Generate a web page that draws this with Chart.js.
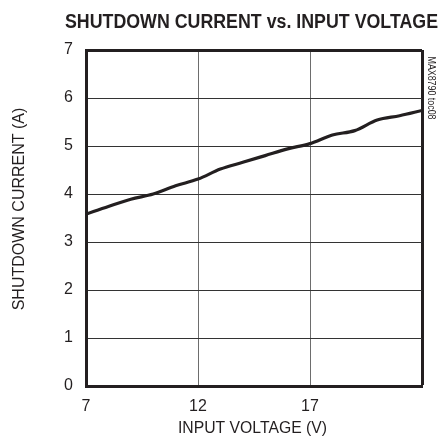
<!DOCTYPE html>
<html lang="en">
<head>
    <meta charset="UTF-8">
    <title>Shutdown Current vs. Input Voltage</title>
    <style>
        body {
            margin: 0;
            padding: 0;
            background: #fff;
        }
        #wrap {
            width: 443px;
            height: 444px;
        }
    </style>
</head>
<body>
    <div id="wrap">
        <canvas id="chart" width="443" height="444"></canvas>
    </div>

    <script src="https://cdn.jsdelivr.net/npm/chart.js"></script>
    <script>
        // values
        const inputVoltage = [7, 8, 9, 10, 11, 12, 13, 14, 15, 16, 17, 18, 19, 20, 21, 22];
        const shutdownCurrent = [3.58, 3.74, 3.89, 4.00, 4.17, 4.31, 4.52, 4.66, 4.80, 4.94, 5.05, 5.23, 5.32, 5.54, 5.63, 5.74];
        const xTicks = [7, 12, 17, 22];
        const yTicks = [0, 1, 2, 3, 4, 5, 6, 7];

        const FONT = '"Liberation Sans", Arial, sans-serif';

        const points = inputVoltage.map((v, i) => ({ x: v, y: shutdownCurrent[i] }));

        // title, rotated y label and the part-number tag; maxWidth squeezes
        // the text like the narrow font of the original
        const labels = {
            id: 'labels',
            afterDraw(chart) {
                const ctx = chart.ctx;
                ctx.save();
                ctx.fillStyle = '#231f20';
                ctx.textAlign = 'center';
                ctx.textBaseline = 'middle';

                ctx.font = 'bold 20px ' + FONT;
                ctx.fillText('SHUTDOWN CURRENT vs. INPUT VOLTAGE', 251.5, 22, 373);

                ctx.font = '16px ' + FONT;
                ctx.fillText('INPUT VOLTAGE (V)', 252.5, 429, 149);

                ctx.save();
                ctx.translate(20, 209);
                ctx.rotate(-Math.PI / 2);
                ctx.fillText('SHUTDOWN CURRENT (A)', 0, 0, 208);
                ctx.restore();

                ctx.save();
                ctx.font = '11px ' + FONT;
                ctx.translate(431, 88);
                ctx.rotate(Math.PI / 2);
                ctx.fillText('MAX8790 toc08', 0, 0, 63);
                ctx.restore();

                ctx.restore();
            }
        };

        new Chart(document.getElementById('chart'), {
            type: 'line',
            data: {
                datasets: [{
                    data: points,
                    borderColor: '#231f20',
                    borderWidth: 3.2,
                    pointRadius: 0,
                    cubicInterpolationMode: 'monotone',
                    fill: false
                }]
            },
            options: {
                responsive: false,
                animation: false,
                layout: {
                    padding: { left: 0, right: 21, top: 50, bottom: 0 }
                },
                plugins: {
                    legend: { display: false },
                    tooltip: { enabled: false }
                },
                scales: {
                    x: {
                        type: 'linear',
                        min: xTicks[0],
                        max: xTicks[xTicks.length - 1],
                        afterBuildTicks: (scale) => {
                            scale.ticks = xTicks.map(v => ({ value: v }));
                        },
                        afterFit: (scale) => { scale.height = 58; },
                        ticks: {
                            padding: 11,
                            color: '#231f20',
                            font: { family: FONT, size: 16 },
                            maxRotation: 0,
                            callback: (v) => v === 22 ? '' : v
                        },
                        grid: {
                            drawTicks: false,
                            color: (c) => (c.tick && c.tick.value === 22) ? '#231f20' : '#6d6d6d',
                            lineWidth: (c) => (c.tick && c.tick.value === 22) ? 3 : 1
                        },
                        border: { color: '#231f20', width: 3 }
                    },
                    y: {
                        min: yTicks[0],
                        max: yTicks[yTicks.length - 1],
                        afterBuildTicks: (scale) => {
                            scale.ticks = yTicks.map(v => ({ value: v }));
                        },
                        afterFit: (scale) => { scale.width = 86; },
                        ticks: {
                            padding: 13,
                            color: '#231f20',
                            font: { family: FONT, size: 16 }
                        },
                        grid: {
                            drawTicks: false,
                            color: (c) => (c.tick && c.tick.value === 7) ? '#231f20' : '#333333',
                            lineWidth: (c) => (c.tick && c.tick.value === 7) ? 3 : 1
                        },
                        border: { color: '#231f20', width: 3 }
                    }
                }
            },
            plugins: [labels]
        });
    </script>
</body>
</html>
